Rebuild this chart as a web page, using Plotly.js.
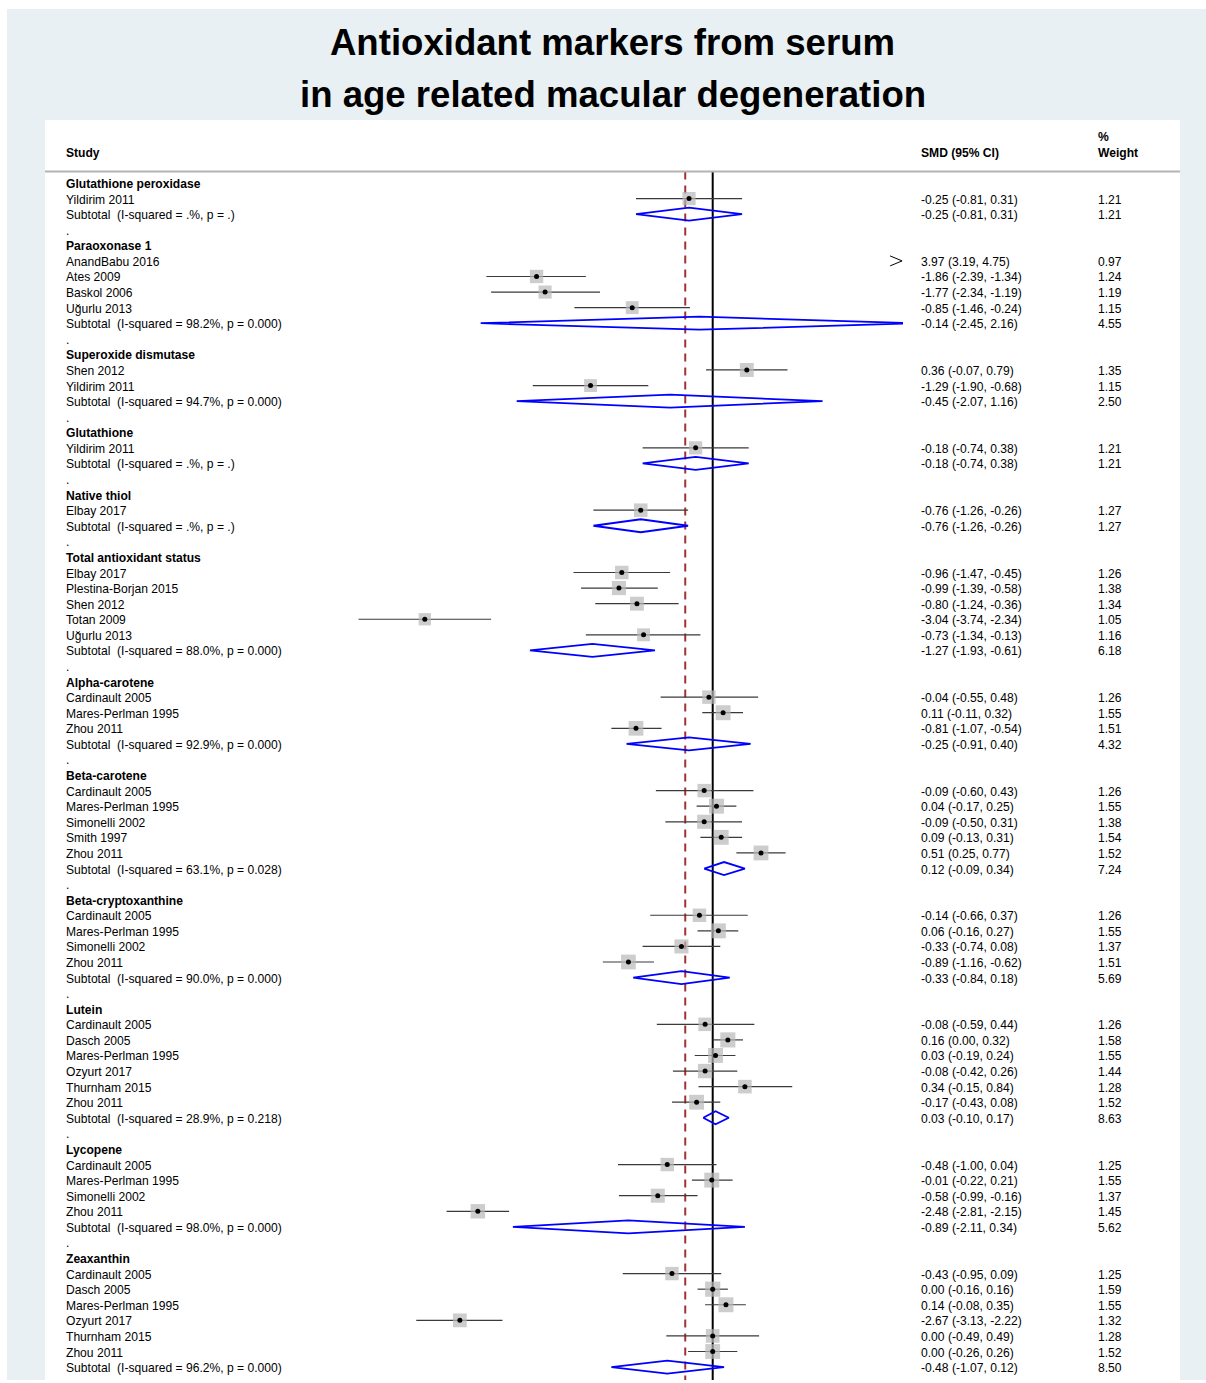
<!DOCTYPE html>
<html>
<head>
<meta charset="utf-8">
<script src="https://cdn.plot.ly/plotly-3.0.1.min.js"></script>
<style>
  html, body { margin:0; padding:0; background:#ffffff; }
  #chart { position:absolute; left:7px; top:9px; width:1199px; height:1371px; }
</style>
</head>
<body>
<div id="chart"></div>
<script>
// ---------------- DATA ----------------
const titleLines = ['Antioxidant markers from serum', 'in age related macular degeneration'];
const headerStudy = 'Study';
const headerEffect = 'SMD (95% CI)';
const headerWeightTop = '%';
const headerWeight = 'Weight';

const rowLabel = [
  'Glutathione peroxidase', 'Yildirim 2011', 'Subtotal  (I-squared = .%, p = .)', '.',
  'Paraoxonase 1', 'AnandBabu 2016', 'Ates 2009', 'Baskol 2006', 'Uğurlu 2013', 'Subtotal  (I-squared = 98.2%, p = 0.000)', '.',
  'Superoxide dismutase', 'Shen 2012', 'Yildirim 2011', 'Subtotal  (I-squared = 94.7%, p = 0.000)', '.',
  'Glutathione', 'Yildirim 2011', 'Subtotal  (I-squared = .%, p = .)', '.',
  'Native thiol', 'Elbay 2017', 'Subtotal  (I-squared = .%, p = .)', '.',
  'Total antioxidant status', 'Elbay 2017', 'Plestina-Borjan 2015', 'Shen 2012', 'Totan 2009', 'Uğurlu 2013', 'Subtotal  (I-squared = 88.0%, p = 0.000)', '.',
  'Alpha-carotene', 'Cardinault 2005', 'Mares-Perlman 1995', 'Zhou 2011', 'Subtotal  (I-squared = 92.9%, p = 0.000)', '.',
  'Beta-carotene', 'Cardinault 2005', 'Mares-Perlman 1995', 'Simonelli 2002', 'Smith 1997', 'Zhou 2011', 'Subtotal  (I-squared = 63.1%, p = 0.028)', '.',
  'Beta-cryptoxanthine', 'Cardinault 2005', 'Mares-Perlman 1995', 'Simonelli 2002', 'Zhou 2011', 'Subtotal  (I-squared = 90.0%, p = 0.000)', '.',
  'Lutein', 'Cardinault 2005', 'Dasch 2005', 'Mares-Perlman 1995', 'Ozyurt 2017', 'Thurnham 2015', 'Zhou 2011', 'Subtotal  (I-squared = 28.9%, p = 0.218)', '.',
  'Lycopene', 'Cardinault 2005', 'Mares-Perlman 1995', 'Simonelli 2002', 'Zhou 2011', 'Subtotal  (I-squared = 98.0%, p = 0.000)', '.',
  'Zeaxanthin', 'Cardinault 2005', 'Dasch 2005', 'Mares-Perlman 1995', 'Ozyurt 2017', 'Thurnham 2015', 'Zhou 2011', 'Subtotal  (I-squared = 96.2%, p = 0.000)'
];

const smd = [
  null, -0.25, -0.25, null,
  null, 3.97, -1.86, -1.77, -0.85, -0.14, null,
  null, 0.36, -1.29, -0.45, null,
  null, -0.18, -0.18, null,
  null, -0.76, -0.76, null,
  null, -0.96, -0.99, -0.80, -3.04, -0.73, -1.27, null,
  null, -0.04, 0.11, -0.81, -0.25, null,
  null, -0.09, 0.04, -0.09, 0.09, 0.51, 0.12, null,
  null, -0.14, 0.06, -0.33, -0.89, -0.33, null,
  null, -0.08, 0.16, 0.03, -0.08, 0.34, -0.17, 0.03, null,
  null, -0.48, -0.01, -0.58, -2.48, -0.89, null,
  null, -0.43, 0.00, 0.14, -2.67, 0.00, 0.00, -0.48
];

const ciLow = [
  null, -0.81, -0.81, null,
  null, 3.19, -2.39, -2.34, -1.46, -2.45, null,
  null, -0.07, -1.90, -2.07, null,
  null, -0.74, -0.74, null,
  null, -1.26, -1.26, null,
  null, -1.47, -1.39, -1.24, -3.74, -1.34, -1.93, null,
  null, -0.55, -0.11, -1.07, -0.91, null,
  null, -0.60, -0.17, -0.50, -0.13, 0.25, -0.09, null,
  null, -0.66, -0.16, -0.74, -1.16, -0.84, null,
  null, -0.59, 0.00, -0.19, -0.42, -0.15, -0.43, -0.10, null,
  null, -1.00, -0.22, -0.99, -2.81, -2.11, null,
  null, -0.95, -0.16, -0.08, -3.13, -0.49, -0.26, -1.07
];

const ciHigh = [
  null, 0.31, 0.31, null,
  null, 4.75, -1.34, -1.19, -0.24, 2.16, null,
  null, 0.79, -0.68, 1.16, null,
  null, 0.38, 0.38, null,
  null, -0.26, -0.26, null,
  null, -0.45, -0.58, -0.36, -2.34, -0.13, -0.61, null,
  null, 0.48, 0.32, -0.54, 0.40, null,
  null, 0.43, 0.25, 0.31, 0.31, 0.77, 0.34, null,
  null, 0.37, 0.27, 0.08, -0.62, 0.18, null,
  null, 0.44, 0.32, 0.24, 0.26, 0.84, 0.08, 0.17, null,
  null, 0.04, 0.21, -0.16, -2.15, 0.34, null,
  null, 0.09, 0.16, 0.35, -2.22, 0.49, 0.26, 0.12
];

const weight = [
  null, 1.21, 1.21, null,
  null, 0.97, 1.24, 1.19, 1.15, 4.55, null,
  null, 1.35, 1.15, 2.50, null,
  null, 1.21, 1.21, null,
  null, 1.27, 1.27, null,
  null, 1.26, 1.38, 1.34, 1.05, 1.16, 6.18, null,
  null, 1.26, 1.55, 1.51, 4.32, null,
  null, 1.26, 1.55, 1.38, 1.54, 1.52, 7.24, null,
  null, 1.26, 1.55, 1.37, 1.51, 5.69, null,
  null, 1.26, 1.58, 1.55, 1.44, 1.28, 1.52, 8.63, null,
  null, 1.25, 1.55, 1.37, 1.45, 5.62, null,
  null, 1.25, 1.59, 1.55, 1.32, 1.28, 1.52, 8.50
];

const overallSMD = -0.29;   // dashed line (pooled estimate)

// ---------------- LAYOUT GEOMETRY ----------------
const FONT = '"Liberation Sans", Arial, Helvetica, sans-serif';
const divLeft = 7, divTop = 9, divW = 1199, divH = 1371;
const panelL = 45, panelR = 1180, panelT = 120, panelB = divTop + divH;
const zeroPx = 712.7, pxPerUnit = 94.7;        // horizontal scale
const row0Px = 183, rowStep = 15.58;            // vertical scale
const clipMin = -4, clipMax = 2;                // visible effect range of the forest
const xRange = [(panelL - zeroPx) / pxPerUnit, (panelR - zeroPx) / pxPerUnit];
const yRange = [(panelB - row0Px) / rowStep, (panelT - row0Px) / rowStep];
const pxToPaperX = px => (px - panelL) / (panelR - panelL);
const pxToRow = py => (py - row0Px) / rowStep;
const colLabelPx = 66, colEffectPx = 921, colWeightPx = 1098;

const kindOf = i => {
  const l = rowLabel[i];
  if (l === '.') return 'b';
  if (l.startsWith('Subtotal')) return 't';
  if (smd[i] === null) return 'h';
  return 's';
};

// ---------------- TRACES ----------------
const ciX = [], ciY = [];
const boxX = [], boxY = [], boxS = [];
const arrX = [], arrY = [];
const diaX = [], diaY = [];
const diaHalf = 6.5 / rowStep;
const arrLen = 12 / pxPerUnit, arrHalf = 5 / rowStep;

rowLabel.forEach((lab, i) => {
  const k = kindOf(i);
  if (k === 's') {
    const lo = ciLow[i], hi = ciHigh[i], e = smd[i];
    if (lo > clipMax) {
      arrX.push(clipMax - arrLen, clipMax, clipMax - arrLen, null);
      arrY.push(i - arrHalf, i, i + arrHalf, null);
    } else if (hi < clipMin) {
      arrX.push(clipMin + arrLen, clipMin, clipMin + arrLen, null);
      arrY.push(i - arrHalf, i, i + arrHalf, null);
    } else {
      ciX.push(Math.max(lo, clipMin), Math.min(hi, clipMax), null);
      ciY.push(i, i, null);
      if (e >= clipMin && e <= clipMax) {
        boxX.push(e); boxY.push(i); boxS.push(12 * Math.sqrt(weight[i]));
      }
    }
  } else if (k === 't') {
    const lo = ciLow[i], hi = ciHigh[i], e = smd[i];
    const pts = [];
    const leftX = Math.max(lo, clipMin), rightX = Math.min(hi, clipMax);
    const hL = lo < clipMin ? diaHalf * (clipMin - lo) / (e - lo) : 0;
    const hR = hi > clipMax ? diaHalf * (hi - clipMax) / (hi - e) : 0;
    pts.push([leftX, i - hL]);
    pts.push([e, i - diaHalf]);
    pts.push([rightX, i - hR]);
    if (hR > 0) pts.push([rightX, i + hR]);
    pts.push([e, i + diaHalf]);
    pts.push([leftX, i + hL]);
    pts.push([leftX, i - hL]);
    pts.forEach(p => { diaX.push(p[0]); diaY.push(p[1]); });
    diaX.push(null); diaY.push(null);
  }
});

const traces = [
  { type:'scatter', mode:'lines', x:ciX, y:ciY, line:{color:'#3a3a3a', width:1.2}, hoverinfo:'skip', showlegend:false },
  { type:'scatter', mode:'markers', x:boxX, y:boxY,
    marker:{symbol:'square', size:boxS, color:'#b8b8b8', line:{width:0}}, hoverinfo:'skip', showlegend:false },
  { type:'scatter', mode:'markers', x:boxX, y:boxY,
    marker:{symbol:'circle', size:5, color:'#000000', line:{width:0}}, hoverinfo:'skip', showlegend:false },
  { type:'scatter', mode:'lines', x:arrX, y:arrY, line:{color:'#000000', width:1}, hoverinfo:'skip', showlegend:false },
  { type:'scatter', mode:'lines', x:diaX, y:diaY, line:{color:'#0000ff', width:1.8}, connectgaps:false, hoverinfo:'skip', showlegend:false }
];

// ---------------- TEXT ----------------
const annotations = [];
const txt = (text, px, row, bold, size) => annotations.push({
  text: bold ? '<b>' + text + '</b>' : text,
  xref:'paper', x: pxToPaperX(px), xanchor:'left', xshift:-2,
  yref:'y', y: row, yanchor:'middle', yshift:-1,
  showarrow:false, font:{family:FONT, size:size || 12.1, color:'#000000'}
});

txt(headerStudy, colLabelPx, pxToRow(152), true);
txt(headerEffect, colEffectPx, pxToRow(152), true);
txt(headerWeightTop, colWeightPx, pxToRow(136), true);
txt(headerWeight, colWeightPx, pxToRow(152), true);

rowLabel.forEach((lab, i) => {
  const k = kindOf(i);
  txt(lab.replace(/ /g, '\u00a0'), colLabelPx, i, k === 'h');
  if (smd[i] !== null) {
    const eff = smd[i].toFixed(2) + ' (' + ciLow[i].toFixed(2) + ', ' + ciHigh[i].toFixed(2) + ')';
    txt(eff, colEffectPx, i, false);
    txt(weight[i].toFixed(2), colWeightPx, i, false);
  }
});

// second title line
annotations.push({
  text:'<b>' + titleLines[1] + '</b>', xref:'paper', x:0.5, xanchor:'center',
  yref:'paper', y: 1 + (panelT - 94) / (panelB - panelT), yanchor:'middle',
  showarrow:false, font:{family:FONT, size:36.6, color:'#000000'}
});

const headerRow = pxToRow(171.5);
const shapes = [
  { type:'line', xref:'x', x0:0, x1:0, yref:'y', y0:headerRow, y1:yRange[0] + 1, layer:'below',
    line:{color:'#000000', width:2} },
  { type:'line', xref:'x', x0:overallSMD, x1:overallSMD, yref:'y', y0:headerRow, y1:yRange[0] + 1, layer:'below',
    line:{color:'#a03434', width:2, dash:'8px,6px'} },
  { type:'line', xref:'paper', x0:0, x1:1, yref:'y', y0:headerRow, y1:headerRow, layer:'above',
    line:{color:'#b4b4b4', width:2} }
];

const layout = {
  width: divW, height: divH,
  margin: {l: panelL - divLeft, r: divLeft + divW - panelR, t: panelT - divTop, b: 0, pad: 0},
  paper_bgcolor: '#e9f0f3',
  plot_bgcolor: '#ffffff',
  title: {
    text: '<b>' + titleLines[0] + '</b>',
    font: {family: FONT, size: 36.6, color: '#000000'},
    xref: 'paper', x: 0.5, xanchor: 'center',
    yref: 'container', y: 1 - (42 - divTop) / divH, yanchor: 'middle'
  },
  xaxis: { range: xRange, showgrid:false, zeroline:false, showticklabels:false, ticks:'', showline:false, fixedrange:true },
  yaxis: { range: yRange, showgrid:false, zeroline:false, showticklabels:false, ticks:'', showline:false, fixedrange:true },
  showlegend: false,
  annotations: annotations,
  shapes: shapes
};

Plotly.newPlot('chart', traces, layout, {displayModeBar:false, staticPlot:true});
</script>
</body>
</html>
